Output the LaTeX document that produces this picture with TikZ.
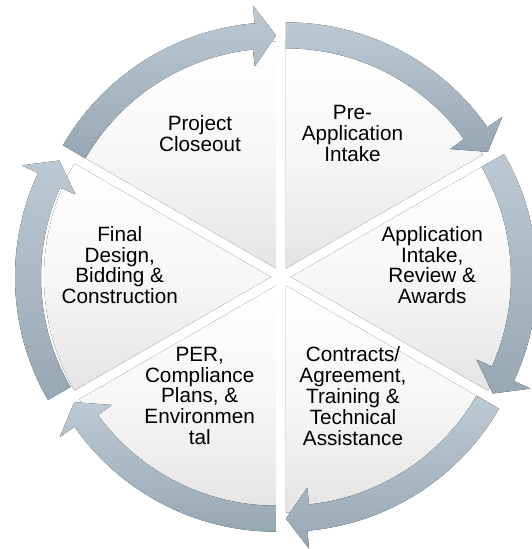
\documentclass[tikz,border=0pt]{standalone}
\usepackage{fontspec}
\setmainfont{Liberation Sans}
\usepackage{tikz}

\definecolor{arrowlight}{HTML}{BDCAD4}
\definecolor{arrowdark}{HTML}{96A7B4}
\definecolor{sectorgray}{HTML}{E4E4E4}

\begin{document}
\begin{tikzpicture}[x=1pt,y=1pt,
  sector/.style={top color=white,bottom color=sectorgray,middle color=white!70!sectorgray},
  cyclearrow/.style={top color=arrowlight,bottom color=arrowdark},
  steptext/.style={anchor=north,inner sep=0pt,align=center,
    font=\fontsize{20.7}{20.9}\selectfont}]
\clip (-281,-272) rectangle (251,277);
% Offsets of the six segments
\coordinate (pc) at (120:10);
\coordinate (pa) at (60:10);
\coordinate (ai) at (0:10);
\coordinate (ca) at (-60:10);
\coordinate (pe) at (-120:10);
\coordinate (fd) at (180:10);
\coordinate (fdarrow) at (180:20);
% The pie sectors
\fill[sector] (pc) -- ++(90:227) arc[start angle=90,end angle=150,radius=227] -- cycle;
\fill[sector] (pa) -- ++(30:227) arc[start angle=30,end angle=90,radius=227] -- cycle;
\fill[sector] (ai) -- ++(-30:227) arc[start angle=-30,end angle=30,radius=227] -- cycle;
\fill[sector] (ca) -- ++(-90:227) arc[start angle=-90,end angle=-30,radius=227] -- cycle;
\fill[sector] (pe) -- ++(-150:227) arc[start angle=-150,end angle=-90,radius=227] -- cycle;
\fill[sector] (fd) -- ++(150:227) arc[start angle=150,end angle=210,radius=227] -- cycle;
% The arrows round the cycle
\fill[cyclearrow,shift={(pc)}] (150:220) -- (150:246) arc[start angle=150,end angle=95,radius=246]
  -- (95:264) -- (90:233) -- (96:203) -- (96:220) arc[start angle=96,end angle=150,radius=220] -- cycle;
\fill[cyclearrow,shift={(pa)}] (90:220) -- (90:246) arc[start angle=90,end angle=35,radius=246]
  -- (35:264) -- (30:233) -- (36:203) -- (36:220) arc[start angle=36,end angle=90,radius=220] -- cycle;
\fill[cyclearrow,shift={(ai)}] (30:220) -- (30:246) arc[start angle=30,end angle=-25,radius=246]
  -- (-25:264) -- (-30:233) -- (-24:203) -- (-24:220) arc[start angle=-24,end angle=30,radius=220] -- cycle;
\fill[cyclearrow,shift={(ca)}] (-30:220) -- (-30:246) arc[start angle=-30,end angle=-85,radius=246]
  -- (-85:264) -- (-90:233) -- (-84:203) -- (-84:220) arc[start angle=-84,end angle=-30,radius=220] -- cycle;
\fill[cyclearrow,shift={(pe)}] (-90:220) -- (-90:246) arc[start angle=-90,end angle=-145,radius=246]
  -- (-145:264) -- (-150:233) -- (-144:203) -- (-144:220) arc[start angle=-144,end angle=-90,radius=220] -- cycle;
\fill[cyclearrow,shift={(fdarrow)}] (210:220) -- (210:246) arc[start angle=210,end angle=155,radius=246]
  -- (155:264) -- (150:233) -- (156:203) -- (156:220) arc[start angle=156,end angle=210,radius=220] -- cycle;
% Labels
\node[steptext] (closeout) at (-81,162) {Project\\Closeout};
\node[steptext] (preapp) at (71.5,172) {Pre-\\Application\\Intake};
\node[steptext] (intake) at (151.2,51) {Application\\Intake,\\Review \&\\Awards};
\node[steptext] (contracts) at (72,-69.7) {Contracts/\\Agreement,\\Training \&\\Technical\\Assistance};
\node[steptext] (per) at (-81.3,-69.7) {PER,\\Compliance\\Plans, \&\\Environmen\\tal};
\node[steptext] (design) at (-161.3,51) {Final\\Design,\\Bidding \&\\Construction};
\end{tikzpicture}
\end{document}
